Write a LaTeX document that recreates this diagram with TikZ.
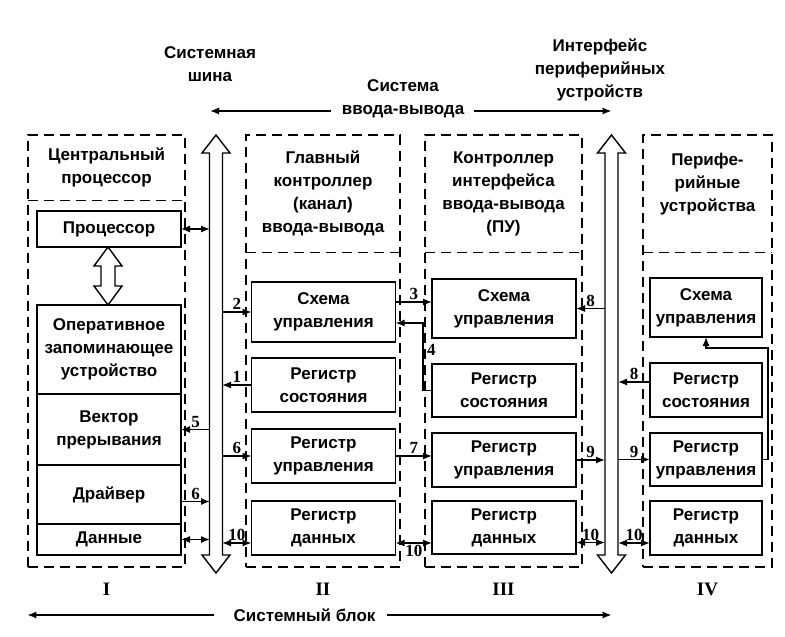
\documentclass[tikz,border=0pt]{standalone}
\usepackage{fontspec}
\setmainfont{Liberation Serif}
\setsansfont{Liberation Sans}
\usetikzlibrary{positioning, arrows.meta}

\begin{document}
\begin{tikzpicture}[x=1pt, y=-1pt,
	lbl/.style={font=\sffamily\bfseries\fontsize{17}{23}\selectfont, align=center, inner sep=0pt},
	blk/.style={lbl, draw, line width=1.4pt, outer sep=0pt, minimum width=144pt},
	grp/.style={draw, line width=1.4pt, dash pattern=on 10pt off 6pt},
	num/.style={font=\rmfamily\bfseries\fontsize{17}{17}\selectfont, inner sep=1.5pt},
	roman/.style={font=\rmfamily\bfseries\fontsize{19}{19}\selectfont},
	lnk/.style={line width=1.3pt, -{Latex[length=9pt, width=7pt]}},
	dlnk/.style={line width=1.3pt, {Latex[length=9pt, width=7pt]}-{Latex[length=9pt, width=7pt]}},
	bus/.style={draw, line width=1.4pt, fill=white}]
	\useasboundingbox (0,0) rectangle (785,637);
	%
	% blocks I - IV
	\node[grp, minimum width=157pt, minimum height=432pt] (g1) at (106.5,351) {};
	\node[lbl, minimum width=157pt, minimum height=65pt] (g1h) at (106.5,167.5) {Центральный\\процессор};
	\node[grp, minimum width=154pt, minimum height=432pt] (g2) at (323,351) {};
	\node[lbl, minimum width=154pt, minimum height=117pt] (g2h) at (323,193.5) {Главный\\контроллер\\(канал)\\ввода-вывода};
	\node[grp, minimum width=157pt, minimum height=432pt] (g3) at (503.5,351) {};
	\node[lbl, minimum width=157pt, minimum height=117pt] (g3h) at (503.5,193.5) {Контроллер\\интерфейса\\ввода-вывода\\(ПУ)};
	\node[grp, minimum width=129pt, minimum height=432pt] (g4) at (707.5,351) {};
	\node[lbl, minimum width=129pt, minimum height=117pt] (g4h) at (707.5,193.5) {Перифе-\\рийные\\устройства\\\mbox{}};
	\foreach \g in {g1h, g2h, g3h, g4h}
		\draw[grp] (\g.south west) -- (\g.south east);
	%
	% column I
	\node[blk, minimum height=36pt] (proc) at (109,229) {Процессор};
	\node[blk, minimum height=89pt] (ram) at (109,349.5) {Оперативное\\запоминающее\\устройство};
	\node[blk, minimum height=71pt, below=0pt of ram] (vec) {Вектор\\прерывания};
	\node[blk, minimum height=59pt, below=0pt of vec] (drv) {Драйвер};
	\node[blk, minimum height=31pt, below=0pt of drv] (dat1) {Данные};
	%
	% column II
	\node[blk, minimum height=60pt] (sch2) at (323.5,312) {Схема\\управления};
	\node[blk, minimum height=54pt] (st2) at (323.5,385) {Регистр\\состояния};
	\node[blk, minimum height=54pt] (ctl2) at (323.5,456) {Регистр\\управления};
	\node[blk, minimum height=54pt] (dat2) at (323.5,528) {Регистр\\данных};
	%
	% column III
	\node[blk, minimum height=59pt] (sch3) at (504,308.5) {Схема\\управления};
	\node[blk, minimum height=53pt] (st3) at (504,390.5) {Регистр\\состояния};
	\node[blk, minimum height=54pt] (ctl3) at (504,460) {Регистр\\управления};
	\node[blk, minimum height=53pt] (dat3) at (504,527.5) {Регистр\\данных};
	%
	% column IV
	\node[blk, minimum width=112pt, minimum height=59pt] (sch4) at (706,307.5) {Схема\\управления};
	\node[blk, minimum width=112pt, minimum height=54pt] (st4) at (706,390) {Регистр\\состояния};
	\node[blk, minimum width=112pt, minimum height=53pt] (ctl4) at (706,459.5) {Регистр\\управления};
	\node[blk, minimum width=112pt, minimum height=54pt] (dat4) at (706,528) {Регистр\\данных};
	%
	% buses
	\coordinate (b1l) at (210,0);
	\coordinate (b1r) at (222,0);
	\coordinate (b2) at (611.5,0);
	\coordinate (b2l) at (605,0);
	\coordinate (b2r) at (618,0);
	\foreach \c in {216, 611.5}
		\draw[bus] (\c,135) -- (\c+14,153) -- (\c+6.5,153) -- (\c+6.5,555) -- (\c+14,555) -- (\c,573)
			-- (\c-14,555) -- (\c-6.5,555) -- (\c-6.5,153) -- (\c-14,153) -- cycle;
	\draw[bus] (108,247) -- (122,266) -- (115,266) -- (115,286) -- (122,286) -- (108,305)
		-- (94,286) -- (101,286) -- (101,266) -- (94,266) -- cycle;
	%
	% links of column I
	\draw[dlnk] (proc.east) -- (proc.east -| b1l);
	\draw[lnk] (vec.east -| b1l) -- node[num, above] {5} (vec.east);
	\draw[lnk] ([yshift=-7pt]drv.east) -- node[num, above] {6} ([yshift=-7pt]drv.east -| b1l);
	\draw[dlnk] (dat1.east) -- (dat1.east -| b1l);
	%
	% links of column II
	\draw[lnk] (sch2.west -| b1r) -- node[num, above] {2} (sch2.west);
	\draw[lnk] (st2.west) -- node[num, above] {1} (st2.west -| b1r);
	\draw[lnk] (ctl2.west -| b1r) -- node[num, above] {6} (ctl2.west);
	\draw[dlnk] ([yshift=-15pt]dat2.west -| b1r) -- node[num, above] {10} ([yshift=-15pt]dat2.west);
	%
	% links II - III
	\draw[lnk] ([yshift=10pt]sch2.east) -- node[num, above] {3} ([yshift=10pt]sch2.east -| sch3.west);
	\draw[lnk] (st3.west) -- ++(-9,0) |- node[num, pos=0.3, right=2pt] {4} ([yshift=-11pt]sch2.east);
	\draw[lnk] (ctl2.east) -- node[num, above] {7} (ctl2.east -| ctl3.west);
	\draw[dlnk] ([yshift=-15pt]dat2.east) -- node[num, below] {10} ([yshift=-15pt]dat2.east -| dat3.west);
	%
	% links III - bus
	\draw[lnk] (sch3.east -| b2l) -- node[num, above] {8} (sch3.east);
	\draw[lnk] (ctl3.east) -- node[num, above] {9} (ctl3.east -| b2l);
	\draw[dlnk] ([yshift=-15pt]dat3.east) -- node[num, above] {10} ([yshift=-15pt]dat3.east -| b2l);
	%
	% links bus - IV
	\draw[lnk] ([yshift=8pt]st4.west) -- node[num, above] {8} ([yshift=8pt]st4.west -| b2r);
	\draw[lnk] (ctl4.west -| b2r) -- node[num, above] {9} (ctl4.west);
	\draw[dlnk] ([yshift=-15pt]dat4.west -| b2r) -- node[num, above] {10} ([yshift=-15pt]dat4.west);
	\draw[lnk] (ctl4.east) -- ++(6,0) |- ([yshift=-11pt]sch4.south) -- (sch4.south);
	%
	% titles
	\node[lbl] (sbus) at (210,64) {Системная\\шина};
	\node[lbl] (io) at (403,99) {Система\\ввода-вывода};
	\node[lbl] (pif) at (600,70) {Интерфейс\\периферийных\\устройств};
	\draw[lnk] ([xshift=-11pt, yshift=-12pt]io.west) -- ([yshift=-12pt]io.west -| b1l);
	\draw[lnk] ([xshift=10pt, yshift=-12pt]io.east) -- ([yshift=-12pt]io.east -| b2);
	%
	\node[roman, below=12pt of g1] (r1) {I};
	\node[roman, below=12pt of g2] (r2) {II};
	\node[roman, below=12pt of g3] (r3) {III};
	\node[roman, below=12pt of g4] (r4) {IV};
	\node[lbl] (sblk) at (304.5,615) {Системный блок};
	\draw[lnk] ([xshift=-19pt]sblk.west) -- (sblk.west -| g1.west);
	\draw[lnk] ([xshift=11pt]sblk.east) -- (sblk.east -| b2);
\end{tikzpicture}
\end{document}
